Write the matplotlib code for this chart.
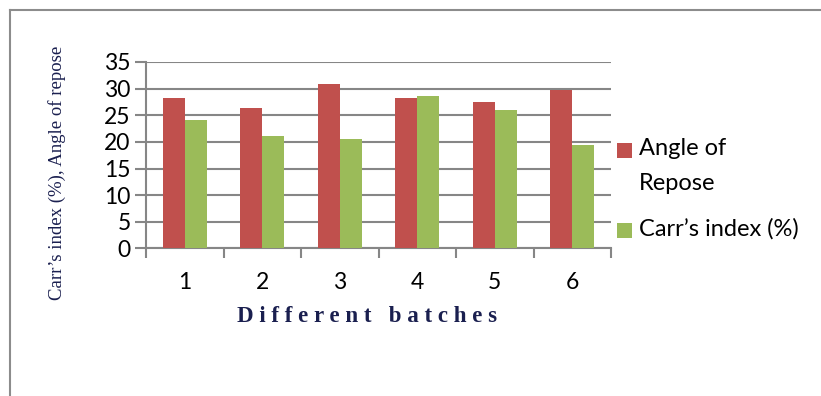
import matplotlib
matplotlib.use("Agg")
import matplotlib.pyplot as plt
from matplotlib.lines import Line2D
from matplotlib.patches import Rectangle
import numpy as np

batches = ["1", "2", "3", "4", "5", "6"]
angle_of_repose = [28.2, 26.3, 30.8, 28.2, 27.5, 29.7]
carrs_index = [24.1, 21.2, 20.5, 28.7, 26.0, 19.5]
y_ticks = [0, 5, 10, 15, 20, 25, 30, 35]
series_names = ["Angle of\nRepose", "Carr\u2019s index (%)"]

RED = "#C0504D"
GREEN = "#9BBB59"
GRID = "#868686"
NAVY = "#1A1F4F"

W, H = 821, 396
fig = plt.figure(figsize=(W / 100, H / 100), dpi=100)

# outer frame (left and top edges)
fig.add_artist(Line2D([10 / W, 10 / W], [0, 1 - 9.5 / H], color="#8C8C8C", lw=1.5,
                      transform=fig.transFigure))
fig.add_artist(Line2D([10 / W, 1], [1 - 9.5 / H, 1 - 9.5 / H], color="#8C8C8C", lw=1.5,
                      transform=fig.transFigure))

left, right, top, bottom = 146, 611, 62, 248.5
ax = fig.add_axes([left / W, 1 - bottom / H, (right - left) / W, (bottom - top) / H])

x = np.arange(len(batches))
bw = 0.285
ax.bar(x - bw / 2, angle_of_repose, bw, color=RED, zorder=3)
ax.bar(x + bw / 2, carrs_index, bw, color=GREEN, zorder=3)

ax.set_xlim(-0.5, len(batches) - 0.5)
ax.set_ylim(0, 35)
ax.set_yticks(y_ticks)
ax.set_yticklabels([str(v) for v in y_ticks], fontfamily="Lato", fontsize=16.5)
ax.yaxis.grid(True, color=GRID, lw=1.5, zorder=0)
ax.set_axisbelow(True)

# category ticks sit between batches
ax.set_xticks(np.arange(-0.5, len(batches), 1.0))
ax.set_xticklabels([])
ax.set_xticks(x, minor=True)
ax.set_xticklabels(batches, minor=True, fontfamily="Lato", fontsize=16.5)
ax.tick_params(axis="x", which="major", direction="out", length=7, width=1.5, color=GRID)
ax.tick_params(axis="x", which="minor", length=0, pad=17)
ax.tick_params(axis="y", direction="out", length=8, width=1.5, color=GRID, pad=3)

for s in ["top", "right"]:
    ax.spines[s].set_visible(False)
for s in ["left", "bottom"]:
    ax.spines[s].set_color(GRID)
    ax.spines[s].set_linewidth(1.5)

ax.set_ylabel("Carr\u2019s index (%), Angle of repose", fontfamily="Liberation Serif",
              fontsize=13.5, color=NAVY)
ax.yaxis.set_label_coords((66 - left) / (right - left), (bottom - 173) / (bottom - top))

fig.text(367 / W, 1 - 317 / H, "D i f f e r e n t   b a t c h e s", ha="center", va="center",
         fontfamily="Liberation Serif", fontweight="bold", fontsize=16.5, color=NAVY)

# legend: colour square beside the first line of each entry
legend_rows = [(RED, series_names[0], 150), (GREEN, series_names[1], 230.5)]
for color, name, yc in legend_rows:
    fig.add_artist(Rectangle((617 / W, 1 - (yc + 7.5) / H), 15 / W, 15 / H,
                             facecolor=color, edgecolor="none", transform=fig.transFigure))
    fig.text(639 / W, 1 - (yc - 12) / H, name, ha="left", va="top", fontfamily="Lato",
             fontsize=17, linespacing=1.8, color="black")

fig.savefig("out.png", dpi=100)
